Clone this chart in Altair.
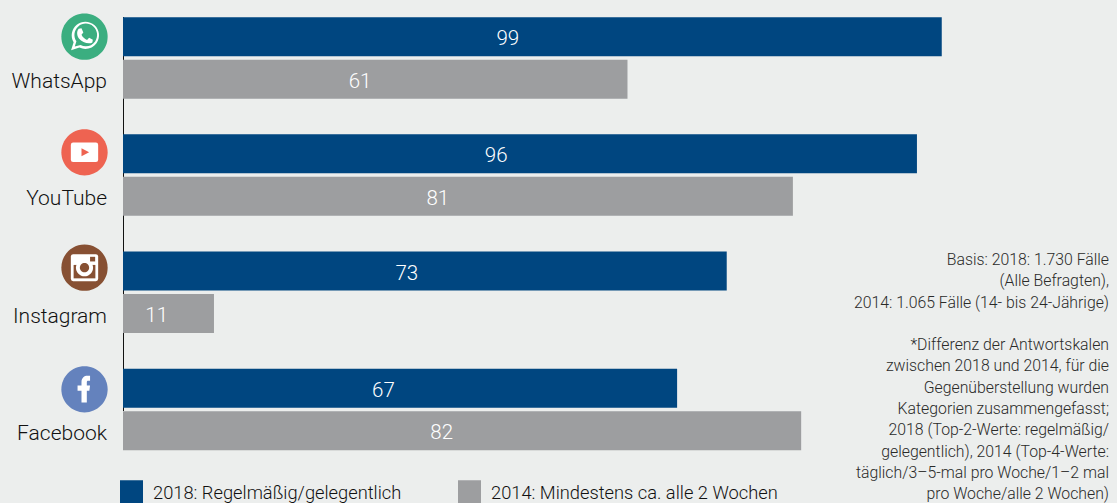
import altair as alt
import pandas as pd

# Survey shares (percent) per platform and survey wave
platforms = ["WhatsApp", "YouTube", "Instagram", "Facebook"]
values_2018 = [99, 96, 73, 67]
values_2014 = [61, 81, 11, 82]
series_names = ["2018: Regelmäßig/gelegentlich", "2014: Mindestens ca. alle 2 Wochen"]
basis_lines = [
    "Basis: 2018: 1.730 Fälle",
    "(Alle Befragten),",
    "2014: 1.065 Fälle (14- bis 24-Jährige)",
]
footnote_lines = [
    "*Differenz der Antwortskalen",
    "zwischen 2018 und 2014, für die",
    "Gegenüberstellung wurden",
    "Kategorien zusammengefasst;",
    "2018 (Top-2-Werte: regelmäßig/",
    "gelegentlich), 2014 (Top-4-Werte:",
    "täglich/3–5-mal pro Woche/1–2 mal",
    "pro Woche/alle 2 Wochen)",
]

BLUE = "#004680"
GREY = "#9D9EA0"
BG = "#ECEEED"
FONT = "Roboto"
W, H = 1117, 503

rows = []
for name, a, b in zip(platforms, values_2018, values_2014):
    rows.append({"platform": name, "series": series_names[0], "value": a})
    rows.append({"platform": name, "series": series_names[1], "value": b})
df = pd.DataFrame(rows)

x_scale = alt.Scale(domain=[-14.873, 120.19], range=[0, W], nice=False, zero=False)
y_scale = alt.Scale(domain=platforms, range=[-0.7, 468.1], paddingInner=0, paddingOuter=0)
offset_scale = alt.Scale(domain=series_names, paddingInner=0.082, paddingOuter=0.42)

x_enc = alt.X("value:Q", scale=x_scale, axis=None)
y_enc = alt.Y("platform:N", scale=y_scale, axis=None)
offset_enc = alt.YOffset("series:N", scale=offset_scale)

baseline = alt.Chart(df).mark_rule(color="#111111", strokeWidth=1).encode(
    x=alt.value(123.5), y=alt.value(17), y2=alt.value(411)
)

bars = alt.Chart(df).mark_bar().encode(
    x=x_enc,
    y=y_enc,
    yOffset=offset_enc,
    color=alt.Color(
        "series:N",
        scale=alt.Scale(domain=series_names, range=[BLUE, GREY]),
        sort=series_names,
        legend=alt.Legend(
            title=None,
            orient="none",
            legendX=120,
            legendY=482.5,
            direction="horizontal",
            columns=2,
            columnPadding=56,
            # square drawn slightly above the entry's centre line, so the label sits lower
            symbolType="M -1 -1.217 L 1 -1.217 L 1 0.783 L -1 0.783 Z",
            symbolSize=529,
            symbolStrokeWidth=0,
            symbolOpacity=1,
            labelFont=FONT,
            labelFontSize=18.3,
            labelFontWeight=300,
            labelColor="#111111",
            labelOffset=10,
            labelLimit=400,
        ),
    ),
)

# Values sit a little left of each bar's middle; the shortest bar keeps its label further in
value_labels = (
    alt.Chart(df)
    .transform_calculate(label_at="datum.value * 0.47 - (datum.value < 20 ? 1.1 : 0)")
    .mark_text(font=FONT, fontSize=20.5, fontWeight=300, color="white", align="center", baseline="middle", dy=2.5)
    .encode(
        x=alt.X("label_at:Q", scale=x_scale, axis=None),
        y=y_enc,
        yOffset=offset_enc,
        text=alt.Text("value:Q"),
    )
)

platform_labels = (
    alt.Chart(df[df["series"] == series_names[1]])
    .mark_text(font=FONT, fontSize=21, fontWeight=300, color="#111111", align="right", baseline="middle", dy=3)
    .encode(x=alt.value(107), y=y_enc, yOffset=offset_enc, text="platform:N")
)


def note_block(lines, top):
    """Right-aligned block of small print starting at the given pixel row."""
    return (
        alt.Chart(df.head(1))
        .mark_text(
            font=FONT, fontSize=15.8, fontWeight=300, color="#2A2A29", align="right", baseline="top",
            lineBreak="\n", lineHeight=21.35,
        )
        .encode(x=alt.value(1109), y=alt.value(top), text=alt.value("\n".join(lines)))
    )


def disc(r):
    return f"M {-r} 0 A {r} {r} 0 1 1 {r} 0 A {r} {r} 0 1 1 {-r} 0 Z"


def glyph(cx, cy, path, color):
    """One icon layer; path coordinates are in units of the icon radius."""
    return (
        alt.Chart(df.head(1))
        .mark_point(shape=path, filled=True, fill=color, opacity=1, size=2144, strokeWidth=0)
        .encode(x=alt.value(cx), y=alt.value(cy))
    )


def rounded_box(x0, y0, x1, y1, r):
    return (
        f"M {x0 + r} {y0} L {x1 - r} {y0} Q {x1} {y0} {x1} {y0 + r} L {x1} {y1 - r} "
        f"Q {x1} {y1} {x1 - r} {y1} L {x0 + r} {y1} Q {x0} {y1} {x0} {y1 - r} "
        f"L {x0} {y0 + r} Q {x0} {y0} {x0 + r} {y0} Z"
    )


GREEN, RED, BROWN, FB = "#3BAE80", "#EE6351", "#875033", "#6482BD"

whatsapp_bubble = (
    "M -0.58 0.58 L -0.47 0.24 A 0.59 0.59 0 1 1 -0.22 0.47 Z"
)
whatsapp_inner = (
    "M -0.42 0.42 L -0.35 0.2 A 0.49 0.49 0 1 1 -0.17 0.36 Z"
)
whatsapp_phone = (
    "M -0.25 -0.34 L -0.13 -0.36 L -0.05 -0.18 L -0.13 -0.08 "
    "C -0.08 0.02 0 0.1 0.11 0.14 L 0.2 0.05 L 0.36 0.13 L 0.34 0.25 "
    "C 0.2 0.34 -0.1 0.26 -0.24 0.08 C -0.34 -0.06 -0.34 -0.24 -0.25 -0.34 Z"
)
facebook_f = (
    "M -0.13 0.57 L -0.13 0.06 L -0.3 0.06 L -0.3 -0.16 L -0.13 -0.16 L -0.13 -0.3 "
    "C -0.13 -0.5 0 -0.58 0.12 -0.58 L 0.24 -0.58 L 0.24 -0.37 L 0.16 -0.37 "
    "C 0.11 -0.37 0.1 -0.34 0.1 -0.3 L 0.1 -0.16 L 0.24 -0.16 L 0.21 0.06 L 0.1 0.06 L 0.1 0.57 Z"
)

icons = [
    glyph(84.5, 36.7, disc(1), GREEN),
    glyph(84.5, 36.7, whatsapp_bubble, "white"),
    glyph(84.5, 36.7, whatsapp_inner, GREEN),
    glyph(84.5, 36.7, whatsapp_phone, "white"),
    glyph(84.5, 152.3, disc(1), RED),
    glyph(84.5, 152.3, rounded_box(-0.59, -0.42, 0.59, 0.42, 0.1), "white"),
    glyph(84.5, 152.3, "M -0.13 -0.17 L 0.2 0 L -0.13 0.17 Z", RED),
    glyph(84.5, 267.7, disc(1), BROWN),
    glyph(84.5, 267.7, rounded_box(-0.59, -0.58, 0.59, 0.58, 0.1), "white"),
    glyph(84.5, 267.7, "M -0.47 -0.12 L 0.47 -0.12 L 0.47 0.46 L -0.47 0.46 Z", BROWN),
    glyph(84.5, 267.7, disc(0.37), "white"),
    glyph(84.5, 267.7, disc(0.2), BROWN),
    glyph(84.5, 267.7, "M 0.24 -0.47 L 0.46 -0.47 L 0.46 -0.27 L 0.24 -0.27 Z", BROWN),
    glyph(84.5, 389.3, disc(1), FB),
    glyph(84.5, 389.3, facebook_f, "white"),
]

chart = (
    alt.layer(
        baseline, bars, value_labels, platform_labels,
        note_block(basis_lines, 253), note_block(footnote_lines, 338), *icons,
    )
    .properties(
        width=W,
        height=H,
        padding=0,
        background=BG,
        autosize=alt.AutoSizeParams(type="none"),
    )
    .configure_view(stroke=None)
)

chart.save("out.html", embed_options={"renderer": "svg", "actions": False})
